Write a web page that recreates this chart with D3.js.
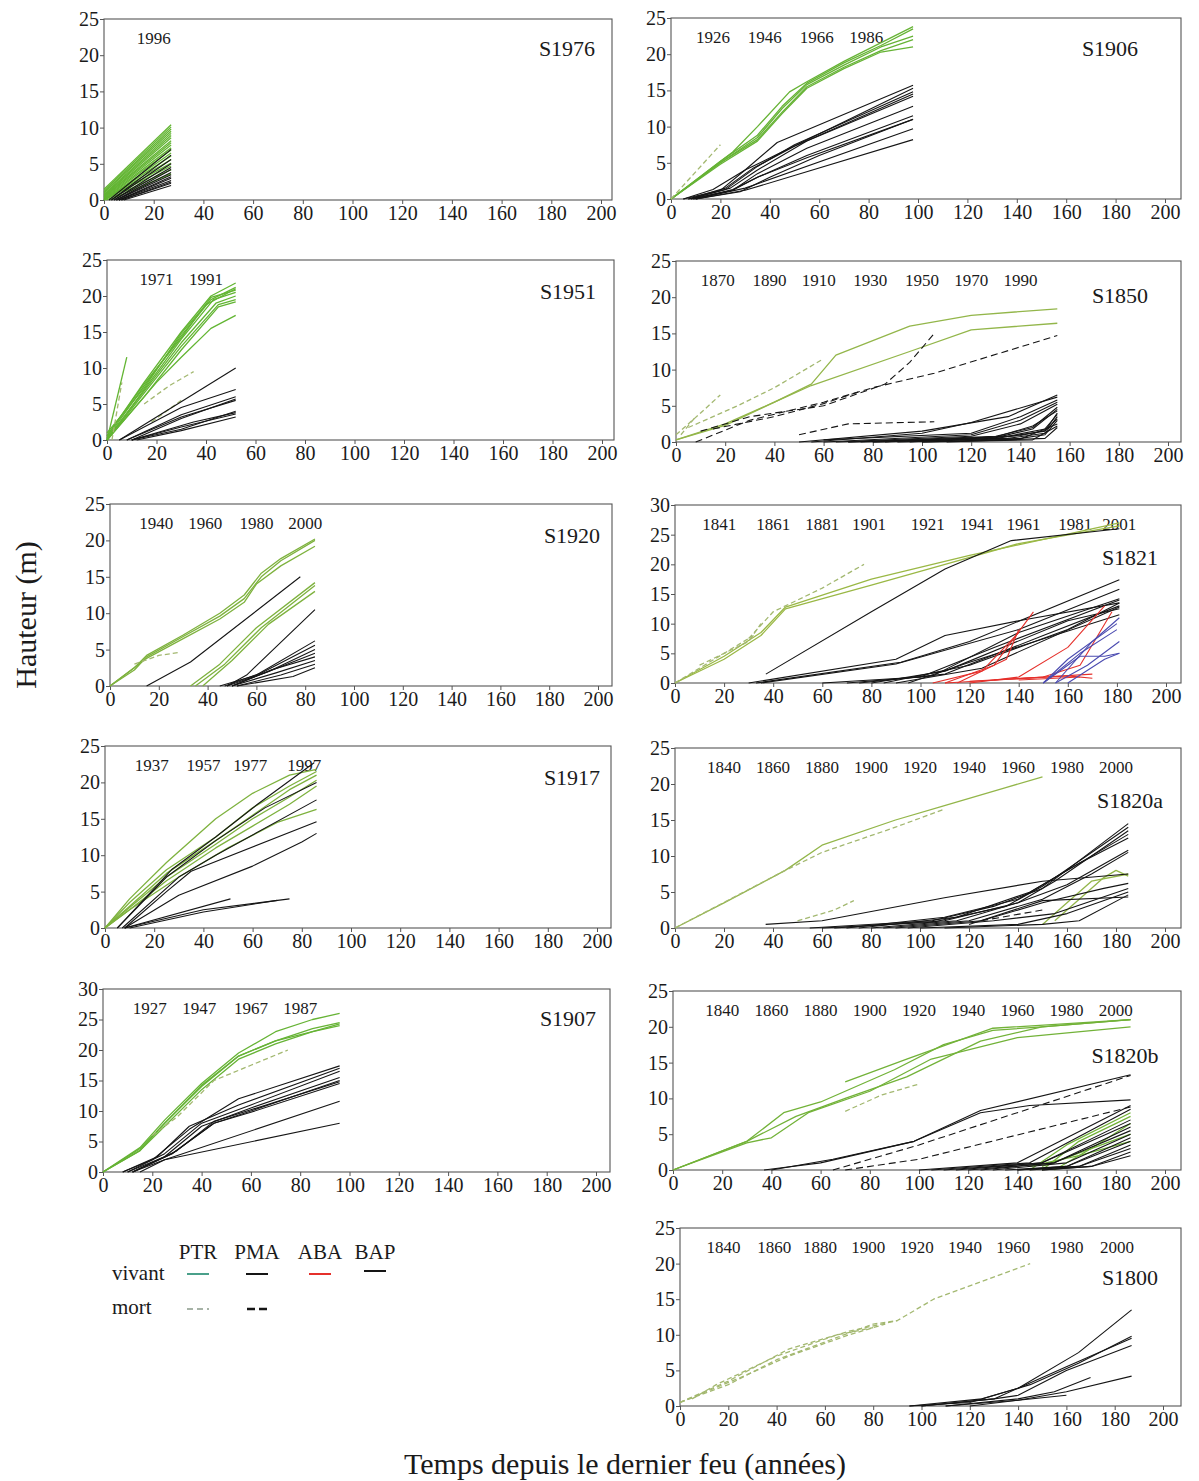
<!DOCTYPE html>
<html><head><meta charset="utf-8">
<script src="https://cdn.jsdelivr.net/npm/d3@7"></script>
<style>body{margin:0;background:#fff}</style></head>
<body>
<svg id="c" width="1199" height="1481"></svg>
<script>
// ---------- tick labels / categories ----------
const xTicks = [0,20,40,60,80,100,120,140,160,180,200];
const yTicks25 = [0,5,10,15,20,25];
const yTicks30 = [0,5,10,15,20,25,30];
const species = ["PTR","PMA","ABA","BAP"];
const statuses = ["vivant","mort"];

// ---------- year labels [x position (years since fire), label] ----------
const years_S1976 = [[20,"1996"]];
const years_S1951 = [[20,"1971"],[40,"1991"]];
const years_S1920 = [[19,"1940"],[39,"1960"],[60,"1980"],[80,"2000"]];
const years_S1917 = [[19,"1937"],[40,"1957"],[59,"1977"],[81,"1997"]];
const years_S1907 = [[19,"1927"],[39,"1947"],[60,"1967"],[80,"1987"]];
const years_S1906 = [[17,"1926"],[38,"1946"],[59,"1966"],[79,"1986"]];
const years_S1850 = [[17,"1870"],[38,"1890"],[58,"1910"],[79,"1930"],[100,"1950"],[120,"1970"],[140,"1990"]];
const years_S1821 = [[18,"1841"],[40,"1861"],[60,"1881"],[79,"1901"],[103,"1921"],[123,"1941"],[142,"1961"],[163,"1981"],[181,"2001"]];
const years_S1820a = [[20,"1840"],[40,"1860"],[60,"1880"],[80,"1900"],[100,"1920"],[120,"1940"],[140,"1960"],[160,"1980"],[180,"2000"]];
const years_S1820b = [[20,"1840"],[40,"1860"],[60,"1880"],[80,"1900"],[100,"1920"],[120,"1940"],[140,"1960"],[160,"1980"],[180,"2000"]];
const years_S1800 = [[18,"1840"],[39,"1860"],[58,"1880"],[78,"1900"],[98,"1920"],[118,"1940"],[138,"1960"],[160,"1980"],[181,"2000"]];

// ---------- series: [species, status v/m, [[years, height m], ...]] ----------
const S1976 = [
 ["PTR","v",[[0,1.5],[27,10.4]]],["PTR","v",[[0,1.3],[27,10.1]]],["PTR","v",[[0,1.1],[27,9.8]]],["PTR","v",[[0,1],[27,9.5]]],
 ["PTR","v",[[0,0.8],[27,9.2]]],["PTR","v",[[0,0.7],[27,8.9]]],
 ["PTR","v",[[0,0.6],[27,8.6]]],["PTR","v",[[0,0.5],[27,8.2]]],["PTR","v",[[0,0.4],[27,7.9]]],["PTR","v",[[0,0.3],[27,7.6]]],
 ["PTR","v",[[0,0.2],[27,7.2]]],["PTR","v",[[0,0.1],[27,6.9]]],["PTR","v",[[0,0],[27,6.5]]],["PTR","v",[[0,0],[27,6.1]]],
 ["PTR","v",[[0,0],[27,5.6]]],["PTR","v",[[0,0],[27,5.1]]],["PTR","v",[[0,0],[27,4.7]]],["PTR","v",[[1,0],[27,4.2]]],["PTR","v",[[2,0],[27,3.6]]],
 ["PMA","v",[[2,0],[27,7]]],["PMA","v",[[3,0],[27,6.2]]],["PMA","v",[[3,0],[27,5.6]]],["PMA","v",[[4,0],[27,5]]],
 ["PMA","v",[[4,0],[27,4.5]]],["PMA","v",[[5,0],[27,4.2]]],["PMA","v",[[5,0],[27,3.8]]],["PMA","v",[[5,0],[27,3.5]]],["PMA","v",[[6,0],[27,3.2]]],["PMA","v",[[6,0],[27,3]]],
 ["PMA","v",[[6,0],[27,2.7]]],["PMA","v",[[7,0],[27,2.5]]],["PMA","v",[[7,0],[27,2.3]]],["PMA","v",[[8,0],[27,2]]]
];
const S1951 = [
 ["PTR","v",[[0,0.5],[15,8],[30,15],[42,20],[52,21.8]]],
 ["PTR","v",[[0,0.3],[15,7.5],[30,14.5],[42,19.5],[52,21.2]]],
 ["PTR","v",[[0,0],[15,7],[30,14],[43,19.5],[52,20.5]]],
 ["PTR","v",[[0,0.2],[15,6.8],[30,13.5],[44,19],[52,20]]],
 ["PTR","v",[[0,0],[15,6.5],[30,13],[45,18.8],[52,19.5]]],
 ["PTR","v",[[0,0],[15,6],[30,12.5],[45,18.5],[52,19.2]]],
 ["PTR","v",[[0,1],[15,7.2],[30,14.8],[40,18.8],[52,21]]],
 ["PTR","v",[[0,0.6],[15,7.8],[30,14.2],[42,19.8],[52,20.8]]],
 ["PTR","v",[[0,0],[20,8],[30,11.5],[42,15.5],[52,17.3]]],
 ["PTR","v",[[0,0],[8,11.5]]],
 ["PTR","m",[[2,0],[6,8]]],
 ["PTR","m",[[15,5],[25,7.5],[35,9.5]]],
 ["PTR","m",[[18,2.5],[30,5.5]]],
 ["PMA","v",[[5,0],[52,10]]],
 ["PMA","v",[[5,0],[30,4.5],[52,7]]],
 ["PMA","v",[[8,0],[30,3.5],[52,6]]],
 ["PMA","v",[[8,0],[30,3.2],[52,5.5]]],
 ["PMA","v",[[10,0],[30,3],[52,5.7]]],
 ["PMA","v",[[10,0],[30,1.5],[52,4]]],
 ["PMA","v",[[10,0],[30,1.8],[52,3.6]]],
 ["PMA","v",[[12,0],[30,1.3],[52,3.2]]],
 ["PMA","v",[[10,0],[35,2.5],[52,3.8]]]
];
const S1920 = [
 ["PTR","v",[[0,0],[10,2.5],[15,4.2],[30,7],[45,10],[55,12.5],[62,15.5],[70,17.5],[84,20.2]]],
 ["PTR","v",[[0,0],[10,2.2],[15,4],[30,6.8],[45,9.6],[55,12],[62,15],[70,17.2],[84,20]]],
 ["PTR","v",[[0,0],[15,3.8],[30,6.5],[45,9.2],[55,11.5],[60,14],[70,16.5],[84,19.2]]],
 ["PTR","m",[[10,3],[20,4.2],[28,4.6]]],
 ["PTR","v",[[33,0],[45,3],[60,8],[84,14.2]]],
 ["PTR","v",[[35,0],[47,3],[62,8],[84,13.8]]],
 ["PTR","v",[[38,0],[50,3.5],[65,8.5],[84,13]]],
 ["PMA","v",[[15,0],[33,3.3],[78,15]]],
 ["PMA","v",[[48,0],[56,1.5],[84,10.5]]],
 ["PMA","v",[[45,0],[60,1.5],[84,6.2]]],
 ["PMA","v",[[47,0],[62,1.8],[84,5.6]]],
 ["PMA","v",[[48,0],[65,2],[84,5]]],
 ["PMA","v",[[50,0],[65,2],[84,4.5]]],
 ["PMA","v",[[50,0],[66,2.2],[84,4]]],
 ["PMA","v",[[50,0],[68,1.8],[84,3.5]]],
 ["PMA","v",[[52,0],[70,1.5],[84,3]]],
 ["PMA","v",[[52,0],[75,1.3],[84,2.5]]]
];
const S1917 = [
 ["PTR","v",[[0,0],[10,4],[25,9],[45,15],[60,18.5],[75,21],[86,21.8]]],
 ["PTR","v",[[0,0],[10,3.5],[25,8],[45,12.5],[60,16.5],[75,19.5],[86,21.5]]],
 ["PTR","v",[[0,0],[10,3],[25,7.5],[45,12],[60,15.5],[75,19],[86,21]]],
 ["PTR","v",[[0,0],[10,2.8],[25,7],[45,11.5],[60,15],[75,18],[86,20.3]]],
 ["PTR","v",[[0,0],[10,2.5],[25,6.5],[45,11],[60,14],[75,17],[86,19.5]]],
 ["PTR","v",[[0,0],[10,2.5],[30,7],[50,11],[70,14.5],[86,16.3]]],
 ["PMA","v",[[5,0],[27,8],[45,12.5],[62,17],[85,22.7]]],
 ["PMA","v",[[5,0],[25,7],[45,12],[65,16.5],[86,20]]],
 ["PMA","v",[[7,0],[30,7],[45,10],[86,17.6]]],
 ["PMA","v",[[8,0],[25,5],[35,7.8],[86,14.6]]],
 ["PMA","v",[[8,0],[30,4.5],[60,8.5],[80,11.8],[86,13]]],
 ["PMA","v",[[8,0],[51,4]]],
 ["PMA","v",[[8,0],[40,2.5],[75,4]]],
 ["PMA","v",[[10,0],[40,2.2],[70,3.8]]]
];
const S1907 = [
 ["PTR","v",[[0,0],[15,4],[25,8.5],[40,14.5],[55,19.5],[70,23],[85,25],[96,26]]],
 ["PTR","v",[[0,0],[15,3.8],[25,8],[40,14],[55,19],[70,21.5],[85,23.5],[96,24.5]]],
 ["PTR","v",[[0,0],[15,3.5],[25,8],[40,14.2],[55,19],[70,21.5],[85,23],[96,24]]],
 ["PTR","v",[[0,0],[15,3.5],[25,7.5],[40,13.5],[55,18.5],[70,21],[85,23],[96,24.3]]],
 ["PTR","m",[[20,6],[30,9],[45,15],[60,17.5],[75,20]]],
 ["PMA","v",[[8,0],[20,2],[35,7],[55,12],[96,17.4]]],
 ["PMA","v",[[8,0],[22,2.5],[35,7.5],[55,11],[96,17]]],
 ["PMA","v",[[10,0],[25,3],[40,8],[60,11],[96,16.5]]],
 ["PMA","v",[[10,0],[25,2.5],[40,7.5],[60,10.5],[96,15.5]]],
 ["PMA","v",[[12,0],[28,3],[45,8],[60,10],[96,15]]],
 ["PMA","v",[[12,0],[28,3],[45,8],[60,9.8],[96,14.5]]],
 ["PMA","v",[[12,0],[30,3.5],[45,8.3],[60,10.2],[96,14.8]]],
 ["PMA","v",[[12,0],[25,2],[96,11.6]]],
 ["PMA","v",[[15,0],[25,2],[96,8]]]
];
const S1906 = [
 ["PTR","v",[[0,0],[20,5],[35,8.5],[45,12.5],[55,15.8],[70,18.5],[85,21],[98,22.5]]],
 ["PTR","v",[[0,0],[20,5],[35,8.2],[45,12],[55,15.5],[70,18.2],[85,20.5],[98,22]]],
 ["PTR","v",[[0,0],[20,5.2],[35,8.8],[45,12.8],[55,16],[70,18.8],[85,21.2],[98,23.5]]],
 ["PTR","v",[[0,0],[20,4.8],[35,8],[45,11.8],[55,15.3],[70,18],[85,20.3],[98,21]]],
 ["PTR","v",[[0,0],[25,6.5],[35,10],[48,14.8],[55,16.2],[70,19],[98,23.8]]],
 ["PTR","m",[[0,0],[20,7.5]]],
 ["PMA","v",[[5,0],[17,1.3],[30,4],[43,7.8],[98,15.7]]],
 ["PMA","v",[[5,0],[20,1.2],[30,4],[42,6],[98,15.3]]],
 ["PMA","v",[[7,0],[22,1.3],[35,4.5],[50,7.5],[98,14.8]]],
 ["PMA","v",[[7,0],[22,1.5],[33,4.2],[50,7.3],[98,14.5]]],
 ["PMA","v",[[8,0],[24,1.5],[35,4],[55,8],[98,14.2]]],
 ["PMA","v",[[8,0],[25,1.2],[35,3.5],[55,7],[98,12.8]]],
 ["PMA","v",[[9,0],[25,1.3],[35,3],[55,6],[98,11.5]]],
 ["PMA","v",[[9,0],[25,1.2],[35,3],[55,5.7],[98,11]]],
 ["PMA","v",[[10,0],[28,1],[40,3],[60,6],[98,11]]],
 ["PMA","v",[[10,0],[30,1.5],[98,9.7]]],
 ["PMA","v",[[10,0],[30,1.2],[98,8.2]]]
];
const S1850 = [
 ["PTR","v",[[0,0.3],[20,2.5],[40,5.5],[55,8],[65,12],[95,16],[120,17.5],[155,18.4]]],
 ["PTR","v",[[0,0.3],[20,2.3],[40,5.5],[55,7.8],[95,12.5],[120,15.5],[155,16.4]]],
 ["PTR","m",[[0,1],[10,4],[18,6.5]]],
 ["PTR","m",[[5,2],[25,5],[40,7.5],[60,11.5]]],
 ["PTR","m",[[2,1],[8,3.5]]],
 ["PMA","m",[[8,0],[30,3],[60,5.5],[80,7.5],[105,9.5],[155,14.7]]],
 ["PMA","m",[[10,1.5],[30,3.5],[60,5],[85,8],[95,11],[105,15]]],
 ["PMA","m",[[15,1.8],[40,3.5],[60,5.3],[75,7]]],
 ["PMA","m",[[50,1],[70,2.5],[105,2.8]]],
 ["PMA","v",[[50,0],[100,1.5],[135,3.5],[155,6.5]]],
 ["PMA","v",[[55,0],[100,1.2],[120,2.7],[155,6.2]]],
 ["PMA","v",[[60,0.3],[120,1.2],[140,3.5],[155,5.8]]],
 ["PMA","v",[[60,0],[120,1],[140,3],[155,5.5]]],
 ["PMA","v",[[65,0],[120,0.8],[140,2.5],[155,5.2]]],
 ["PMA","v",[[70,0],[130,0.8],[145,2],[155,4.8]]],
 ["PMA","v",[[70,0],[130,0.6],[145,1.8],[155,4.5]]],
 ["PMA","v",[[75,0],[130,0.7],[145,2.2],[155,4.3]]],
 ["PMA","v",[[80,0],[130,0.5],[150,1.5],[155,4]]],
 ["PMA","v",[[80,0],[135,0.5],[150,1.2],[155,3.5]]],
 ["PMA","v",[[85,0],[135,0.8],[150,1.8],[155,3.8]]],
 ["PMA","v",[[90,0],[140,0.5],[150,1],[155,3]]],
 ["PMA","v",[[95,0],[140,0.9],[150,1.6],[155,3.2]]],
 ["PMA","v",[[100,0],[140,0.4],[155,2.5]]],
 ["PMA","v",[[100,0],[145,0.3],[155,2.2]]],
 ["PMA","v",[[110,0],[150,0.5],[155,2]]]
];
const S1821 = [
 ["PTR","v",[[0,0],[20,4],[35,8],[45,12.5],[80,16.5],[110,20],[140,23.5],[181,26.5]]],
 ["PTR","v",[[0,0],[20,4.5],[35,8.5],[45,12.8],[80,17.5],[120,21.5],[181,27]]],
 ["PTR","m",[[0,0],[20,5],[32,8]]],
 ["PTR","m",[[10,3],[30,7],[35,10]]],
 ["PTR","m",[[30,7.5],[40,12],[60,16],[77,20]]],
 ["PMA","v",[[37,1.5],[80,12],[110,19.2],[137,24],[181,26]]],
 ["PMA","v",[[30,0],[90,4],[110,8],[140,10.5],[181,13.5]]],
 ["PMA","v",[[33,0],[92,3.5],[120,7],[181,17.4]]],
 ["PMA","v",[[35,0],[90,3.2],[140,9],[181,15.8]]],
 ["PMA","v",[[60,0],[100,1],[130,6],[181,14]]],
 ["PMA","v",[[70,0],[105,1.2],[140,8.5],[181,14.2]]],
 ["PMA","v",[[75,0],[110,1.5],[150,8],[181,13]]],
 ["PMA","v",[[80,0],[110,2],[160,10.5],[181,12.5]]],
 ["PMA","v",[[85,0],[120,3],[160,9],[181,13.5]]],
 ["PMA","v",[[90,0],[125,2.5],[181,12.8]]],
 ["PMA","v",[[95,0],[120,3.5],[181,11.5]]],
 ["ABA","v",[[110,0],[130,3],[146,12]]],
 ["ABA","v",[[105,0],[125,2],[140,8.5]]],
 ["ABA","v",[[115,0],[135,4],[140,9]]],
 ["ABA","v",[[120,0],[140,1],[160,6],[175,13]]],
 ["ABA","v",[[120,0.3],[150,1],[165,3],[178,12]]],
 ["ABA","v",[[130,0.5],[170,1.5]]],
 ["ABA","v",[[140,0.5],[165,1]]],
 ["ABA","v",[[110,0],[160,1.2],[170,0.8]]],
 ["BAP","v",[[150,0],[160,4],[180,10]]],
 ["BAP","v",[[150,0],[165,5],[180,9]]],
 ["BAP","v",[[155,0],[170,7],[181,11]]],
 ["BAP","v",[[150,0],[165,4.5],[175,4.5],[181,5]]],
 ["BAP","v",[[155,0],[168,3],[181,7]]],
 ["BAP","v",[[160,0],[175,4],[181,5]]]
];
const S1820a = [
 ["PTR","v",[[0,0],[20,3.5],[45,8],[60,11.5],[90,15],[110,17],[135,19.5],[150,21]]],
 ["PTR","m",[[0,0],[45,8],[60,10.5],[90,14],[110,16.5]]],
 ["PTR","m",[[50,1],[65,2.5],[73,3.8]]],
 ["PTR","v",[[150,0.5],[160,3.5],[170,6.5],[185,7.5]]],
 ["PTR","v",[[155,1],[165,4],[175,7],[180,8],[185,7.2]]],
 ["PMA","v",[[37,0.5],[60,1],[110,4.2],[150,6.5],[185,7.5]]],
 ["PMA","v",[[55,0],[105,1],[130,3],[150,5.5],[185,14.5]]],
 ["PMA","v",[[60,0],[105,0.8],[135,3],[150,5.8],[185,14]]],
 ["PMA","v",[[65,0],[110,1],[140,3.5],[155,6.5],[185,13.5]]],
 ["PMA","v",[[70,0],[110,1.5],[140,4],[160,8],[185,13]]],
 ["PMA","v",[[75,0],[115,1.5],[145,5],[165,9],[185,12.5]]],
 ["PMA","v",[[80,0],[115,1],[140,3.5],[160,6],[185,10.8]]],
 ["PMA","v",[[85,0],[120,1],[150,4],[170,7.5],[185,10.5]]],
 ["PMA","v",[[90,0],[125,1],[150,3.5],[175,5.5],[185,6.2]]],
 ["PMA","v",[[95,0],[130,1],[155,2],[185,5.5]]],
 ["PMA","v",[[100,0],[140,0.5],[160,2],[185,5]]],
 ["PMA","v",[[110,0],[150,0.5],[165,1],[185,4.6]]],
 ["PMA","v",[[120,0.5],[150,3.8],[185,4.3]]],
 ["PMA","m",[[125,1],[150,2.5]]]
];
const S1820b = [
 ["PTR","v",[[0,0],[30,4],[45,8],[60,9.5],[90,14],[110,17.5],[130,19.5],[150,20],[186,21]]],
 ["PTR","v",[[0,0],[30,4],[50,7.5],[70,10],[95,13],[125,18],[150,20],[186,21]]],
 ["PTR","v",[[0,0],[30,3.8],[40,4.5],[55,8],[80,11],[105,15.5],[140,18.5],[186,20]]],
 ["PTR","v",[[70,12.3],[95,15.5],[130,19.8],[186,21]]],
 ["PTR","m",[[70,8.2],[85,10.5],[100,12]]],
 ["PTR","v",[[145,0],[160,3.5],[186,8]]],
 ["PTR","v",[[150,0],[165,4],[186,7.5]]],
 ["PTR","v",[[150,0.5],[170,3],[186,6.5]]],
 ["PTR","v",[[155,0],[170,3],[186,5]]],
 ["PTR","v",[[145,0.5],[165,2],[186,4]]],
 ["PMA","v",[[37,0],[60,1],[98,4],[125,8.3],[186,13.3]]],
 ["PMA","v",[[40,0],[65,1.5],[98,4],[125,8],[145,9],[186,9.8]]],
 ["PMA","m",[[65,0],[100,3.5],[186,13.2]]],
 ["PMA","m",[[70,0],[100,1.5],[186,8.8]]],
 ["PMA","v",[[100,0],[140,1],[186,9]]],
 ["PMA","v",[[105,0],[145,1],[186,8.5]]],
 ["PMA","v",[[110,0],[150,1],[186,7]]],
 ["PMA","v",[[115,0],[150,1],[186,6.5]]],
 ["PMA","v",[[120,0],[155,1],[186,6]]],
 ["PMA","v",[[125,0],[155,1],[186,5.5]]],
 ["PMA","v",[[130,0],[160,1],[186,5]]],
 ["PMA","v",[[135,0],[160,0.5],[186,4.5]]],
 ["PMA","v",[[140,0],[160,0.5],[186,4]]],
 ["PMA","v",[[140,0],[165,0.5],[186,3.5]]],
 ["PMA","v",[[145,0],[165,0.5],[186,3]]],
 ["PMA","v",[[150,0],[170,0.5],[186,2.5]]],
 ["PMA","v",[[150,0],[170,0.5],[186,2]]]
];
const S1800 = [
 ["PTR","m",[[0,0.5],[20,3.5],[45,8],[70,10.5],[90,12],[105,15],[125,17.5],[145,20]]],
 ["PTR","m",[[0,0.5],[20,3],[40,6.5],[60,9],[80,11.5],[90,12]]],
 ["PTR","m",[[0,0.5],[25,4],[45,7],[70,10],[85,11.5]]],
 ["PTR","m",[[5,1],[15,3],[40,7],[65,10],[80,11]]],
 ["PMA","v",[[95,0],[120,0.5],[140,2.5],[165,7.5],[187,13.5]]],
 ["PMA","v",[[95,0],[125,1],[145,3],[165,6],[187,9.8]]],
 ["PMA","v",[[100,0],[130,1],[140,2.5],[160,5.5],[187,9.5]]],
 ["PMA","v",[[100,0],[130,1],[140,1.5],[160,5],[187,8.5]]],
 ["PMA","v",[[110,0],[140,1],[155,2],[170,4]]],
 ["PMA","v",[[110,0],[140,0.8],[160,2],[187,4.2]]],
 ["PMA","v",[[120,0],[140,0.8],[160,1.5]]]
];

// ---------- layout (positions & styling only) ----------
const panels = [
 {name:"S1976", data:S1976, years:years_S1976, ymax:25, l:104, r200:601, right:612, top:19, bottom:200, nx:567, ny:48, g:"#62b532"},
 {name:"S1951", data:S1951, years:years_S1951, ymax:25, l:107, r200:602, right:614, top:260, bottom:440, nx:568, ny:291, g:"#62b532"},
 {name:"S1920", data:S1920, years:years_S1920, ymax:25, l:110, r200:598, right:612, top:504, bottom:686, nx:572, ny:535, g:"#7eb23e"},
 {name:"S1917", data:S1917, years:years_S1917, ymax:25, l:105, r200:597, right:611, top:746, bottom:928, nx:572, ny:777, g:"#7eb23e"},
 {name:"S1907", data:S1907, years:years_S1907, ymax:30, l:103, r200:596, right:610, top:989, bottom:1172, nx:568, ny:1018, g:"#66b335"},
 {name:"S1906", data:S1906, years:years_S1906, ymax:25, l:671, r200:1165, right:1181, top:18, bottom:199, nx:1110, ny:48, g:"#66b335"},
 {name:"S1850", data:S1850, years:years_S1850, ymax:25, l:676, r200:1168, right:1181, top:261, bottom:442, nx:1120, ny:295, g:"#93b64a"},
 {name:"S1821", data:S1821, years:years_S1821, ymax:30, l:675, r200:1166, right:1181, top:505, bottom:683, nx:1130, ny:557, g:"#9ab845"},
 {name:"S1820a", data:S1820a, years:years_S1820a, ymax:25, l:675, r200:1165, right:1181, top:748, bottom:928, nx:1130, ny:800, g:"#93b64a"},
 {name:"S1820b", data:S1820b, years:years_S1820b, ymax:25, l:673, r200:1165, right:1181, top:991, bottom:1170, nx:1125, ny:1055, g:"#72b238"},
 {name:"S1800", data:S1800, years:years_S1800, ymax:25, l:680, r200:1163, right:1181, top:1228, bottom:1406, nx:1130, ny:1277, g:"#a8bc5c"}
];

const FONT = "'Liberation Serif','Times New Roman',serif";
const svg = d3.select("#c");
const order = {PTR:0, PMA:1, ABA:2, BAP:3};
const spColor = {PMA:"#151515", ABA:"#e5302b", BAP:"#4b4bb0"};

panels.forEach(p => {
  const x = d3.scaleLinear().domain([0,200]).range([p.l, p.r200]);
  const y = d3.scaleLinear().domain([0,p.ymax]).range([p.bottom, p.top]);
  const g = svg.append("g");
  const xMaxDom = x.invert(p.right);

  g.append("rect").attr("x", x(0)).attr("y", y(p.ymax))
    .attr("width", x(xMaxDom)-x(0)).attr("height", y(0)-y(p.ymax))
    .attr("fill","none").attr("stroke","#555").attr("stroke-width",1.1);

  const ax = g.append("g").attr("transform",`translate(0,${y(0)})`)
    .call(d3.axisBottom(x).tickValues(xTicks).tickSize(4).tickSizeOuter(0).tickPadding(2).tickFormat(d3.format("d")));
  const ay = g.append("g").attr("transform",`translate(${x(0)},0)`)
    .call(d3.axisLeft(y).tickValues(p.ymax===30?yTicks30:yTicks25).tickSize(4).tickSizeOuter(0).tickPadding(1).tickFormat(d3.format("d")));
  [ax, ay].forEach(a => {
    a.select(".domain").remove();
    a.selectAll("line").attr("stroke","#555");
    a.selectAll("text").attr("font-family",FONT).attr("font-size",20).attr("fill","#1a1a1a");
  });

  g.selectAll(".yr").data(p.years).enter().append("text")
    .attr("x", d => x(d[0])).attr("y", p.top+25)
    .attr("text-anchor","middle").attr("font-family",FONT).attr("font-size",17).attr("fill","#1a1a1a")
    .text(d => d[1]);

  const line = d3.line().x(d => x(d[0])).y(d => y(d[1]));
  const sorted = p.data.slice().sort((a,b) => order[a[0]]-order[b[0]]);
  g.selectAll(".s").data(sorted).enter().append("path")
    .attr("d", d => line(d[2]))
    .attr("fill","none")
    .attr("stroke", d => d[0]==="PTR" ? (d[1]==="m" ? "#a3b870" : p.g) : spColor[d[0]])
    .attr("stroke-width", d => d[0]==="PTR" ? 1.3 : 1.1)
    .attr("stroke-dasharray", d => d[1]==="m" ? (d[0]==="PTR" ? "5,3" : "7,4") : null)
    .attr("stroke-linejoin","round");

  g.append("text").attr("x", p.nx).attr("y", p.ny).attr("dy","0.35em")
    .attr("text-anchor","middle").attr("font-family",FONT).attr("font-size",22).attr("fill","#1a1a1a")
    .text(p.name);
});

svg.append("text").attr("transform","translate(36,615) rotate(-90)")
  .attr("text-anchor","middle").attr("font-family",FONT).attr("font-size",30).attr("fill","#1a1a1a")
  .text("Hauteur (m)");
svg.append("text").attr("x",625).attr("y",1474)
  .attr("text-anchor","middle").attr("font-family",FONT).attr("font-size",30).attr("fill","#1a1a1a")
  .text("Temps depuis le dernier feu (années)");

const lg = svg.append("g");
const legCols = {PTR:198, PMA:257, ABA:320, BAP:375};
species.forEach(s => {
  lg.append("text").attr("x",legCols[s]).attr("y",1259).attr("text-anchor","middle")
    .attr("font-family",FONT).attr("font-size",21).attr("fill","#1a1a1a").text(s);
});
lg.append("text").attr("x",112).attr("y",1280).attr("font-family",FONT).attr("font-size",21).attr("fill","#1a1a1a").text(statuses[0]);
lg.append("text").attr("x",112).attr("y",1314).attr("font-family",FONT).attr("font-size",21).attr("fill","#1a1a1a").text(statuses[1]);
const legV = {PTR:["#4aa08a",1274], PMA:["#151515",1274], ABA:["#e5302b",1274], BAP:["#151515",1271]};
species.forEach(s => {
  lg.append("line").attr("x1",legCols[s]-11).attr("x2",legCols[s]+11).attr("y1",legV[s][1]).attr("y2",legV[s][1])
    .attr("stroke",legV[s][0]).attr("stroke-width",2);
});
lg.append("line").attr("x1",187).attr("x2",209).attr("y1",1309).attr("y2",1309)
  .attr("stroke","#8a9a8a").attr("stroke-width",1.5).attr("stroke-dasharray","6,4");
lg.append("line").attr("x1",247).attr("x2",270).attr("y1",1309).attr("y2",1309)
  .attr("stroke","#151515").attr("stroke-width",2.5).attr("stroke-dasharray","8,4");
</script>
</body></html>
